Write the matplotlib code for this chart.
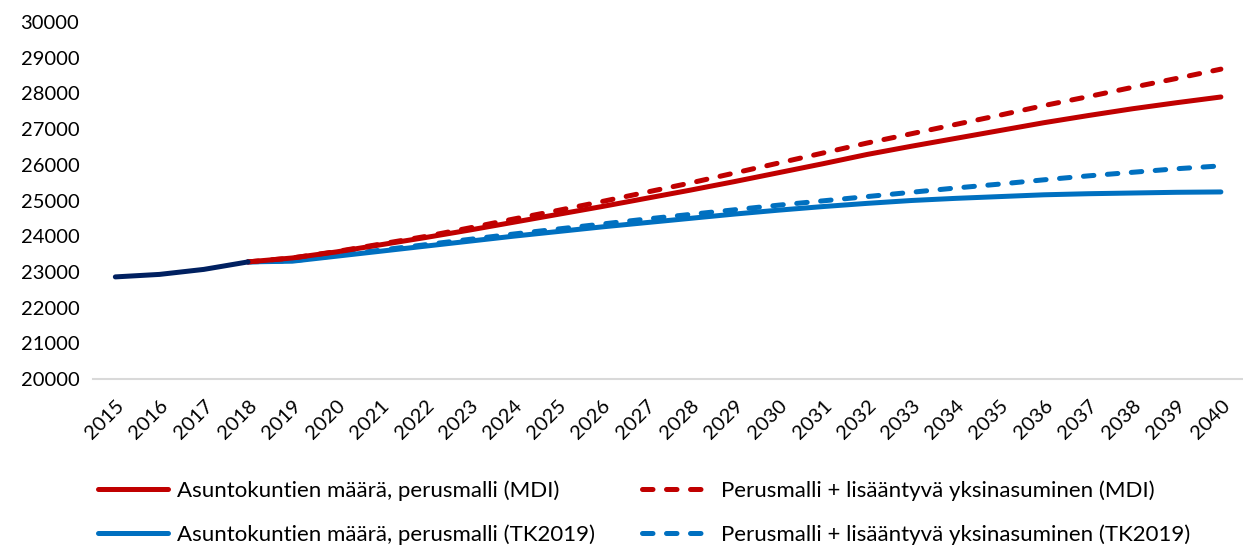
import matplotlib
matplotlib.use('Agg')
import matplotlib.pyplot as plt

plt.rcParams['font.family'] = ['Lato', 'DejaVu Sans']

vuodet_hist = [2015, 2016, 2017, 2018]
toteutunut = [22860, 22930, 23070, 23280]

vuodet = list(range(2018, 2041))
perus_mdi = [23280, 23390, 23560, 23760, 23960, 24170, 24390, 24610, 24830, 25060, 25290, 25530,
             25780, 26030, 26290, 26520, 26740, 26960, 27180, 27380, 27570, 27740, 27900]
yksin_mdi = [23280, 23390, 23570, 23780, 23990, 24230, 24480, 24720, 24970, 25230, 25490, 25770,
             26050, 26330, 26610, 26870, 27130, 27390, 27660, 27910, 28170, 28420, 28680]
perus_tk = [23280, 23300, 23440, 23580, 23720, 23860, 24000, 24130, 24260, 24380, 24500, 24620,
            24730, 24830, 24920, 25000, 25060, 25110, 25160, 25190, 25210, 25230, 25240]
yksin_tk = [23280, 23310, 23460, 23610, 23760, 23910, 24060, 24200, 24340, 24480, 24610, 24740,
            24870, 24990, 25110, 25230, 25350, 25460, 25580, 25690, 25790, 25890, 25970]

punainen = '#C00000'
sininen = '#0070C0'
tummansininen = '#002060'

fig = plt.figure(figsize=(12.43, 5.45), dpi=100)
ax = fig.add_axes([0.075, 0.3046, 0.925, 0.655])

lw = 3.6
viiva = dict(linewidth=lw, solid_capstyle='round', dash_capstyle='round')
katko = (2.1, 2.7)

ax.plot(vuodet, yksin_tk, color=sininen, dashes=katko,
        label='Perusmalli + lisääntyvä yksinasuminen (TK2019)', **viiva)
ax.plot(vuodet, perus_tk, color=sininen,
        label='Asuntokuntien määrä, perusmalli (TK2019)', **viiva)
ax.plot(vuodet, yksin_mdi, color=punainen, dashes=katko,
        label='Perusmalli + lisääntyvä yksinasuminen (MDI)', **viiva)
ax.plot(vuodet, perus_mdi, color=punainen,
        label='Asuntokuntien määrä, perusmalli (MDI)', **viiva)
ax.plot(vuodet_hist, toteutunut, color=tummansininen, **viiva)

ax.set_xlim(2014.5, 2040.5)
ax.set_ylim(20000, 30000)
ax.set_yticks(range(20000, 30001, 1000))
ax.set_xticks(range(2015, 2041))
ax.set_xticklabels([str(v) for v in range(2015, 2041)], rotation=45,
                   ha='right', rotation_mode='anchor')
ax.tick_params(axis='both', length=0, labelsize=14.5, colors='#000000')
ax.tick_params(axis='x', pad=13)
ax.tick_params(axis='y', pad=10)

for s in ['top', 'right', 'left']:
    ax.spines[s].set_visible(False)
ax.spines['bottom'].set_color('#D9D9D9')
ax.spines['bottom'].set_linewidth(1.5)

kahvat, nimet = ax.get_legend_handles_labels()
jarjestys = [3, 1, 2, 0]
fig.legend([kahvat[i] for i in jarjestys], [nimet[i] for i in jarjestys],
           loc='upper left', bbox_to_anchor=(0.072, 0.135), ncol=2, frameon=False,
           fontsize=16, handlelength=3.15, handletextpad=0.4,
           columnspacing=2.1, labelspacing=1.05, borderaxespad=0)

fig.savefig('out.png', dpi=100)
